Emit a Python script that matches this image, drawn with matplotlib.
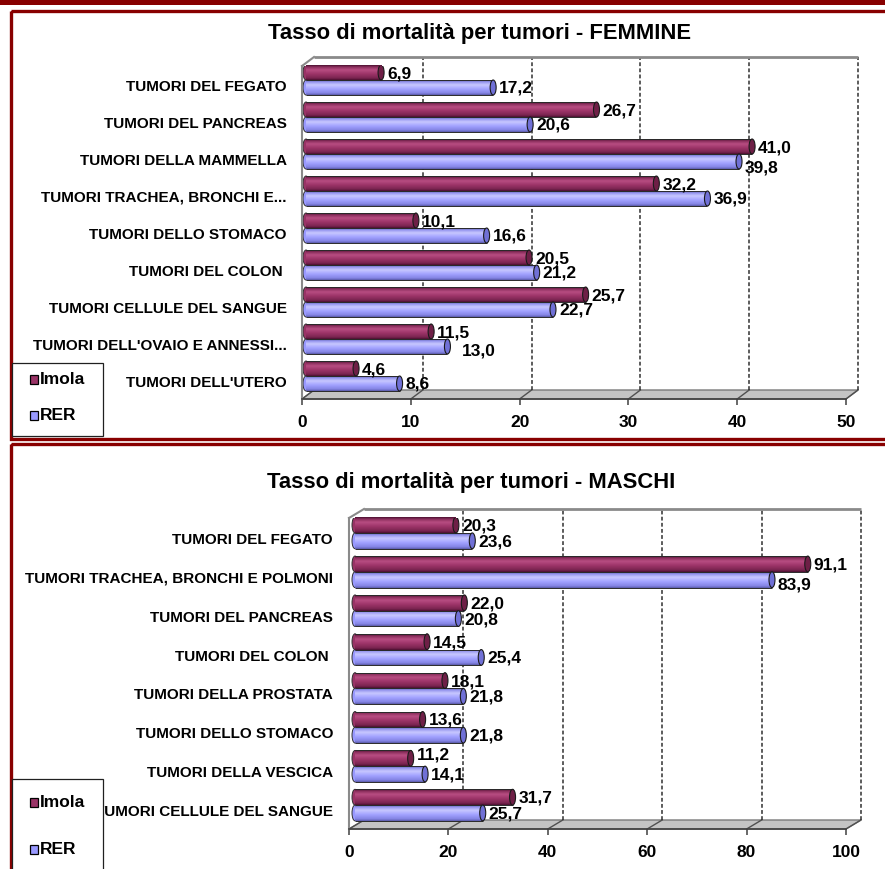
import matplotlib.pyplot as plt
import numpy as np
from matplotlib.patches import Rectangle, Ellipse, Polygon
from matplotlib.colors import LinearSegmentedColormap

plt.rcParams['font.family'] = ['Liberation Sans', 'DejaVu Sans']
plt.rcParams['font.weight'] = 'bold'

# ── DATA ──────────────────────────────────────────────
series = ['Imola', 'RER']

cat_f = ['TUMORI DEL FEGATO', 'TUMORI DEL PANCREAS', 'TUMORI DELLA MAMMELLA',
         'TUMORI TRACHEA, BRONCHI E...', 'TUMORI DELLO STOMACO', 'TUMORI DEL COLON ',
         'TUMORI CELLULE DEL SANGUE', "TUMORI DELL'OVAIO E ANNESSI...", "TUMORI DELL'UTERO"]
imola_f = [6.9, 26.7, 41.0, 32.2, 10.1, 20.5, 25.7, 11.5, 4.6]
rer_f   = [17.2, 20.6, 39.8, 36.9, 16.6, 21.2, 22.7, 13.0, 8.6]

cat_m = ['TUMORI DEL FEGATO', 'TUMORI TRACHEA, BRONCHI E POLMONI', 'TUMORI DEL PANCREAS',
         'TUMORI DEL COLON ', 'TUMORI DELLA PROSTATA', 'TUMORI DELLO STOMACO',
         'TUMORI DELLA VESCICA', 'TUMORI CELLULE DEL SANGUE']
imola_m = [20.3, 91.1, 22.0, 14.5, 18.1, 13.6, 11.2, 31.7]
rer_m   = [23.6, 83.9, 20.8, 25.4, 21.8, 21.8, 14.1, 25.7]

# ── COLORS ────────────────────────────────────────────
BORDER = '#880000'
cmaps = {
    'Imola': LinearSegmentedColormap.from_list('imola', [
        (0.0, '#4a1030'), (0.12, '#8a2e5c'), (0.32, '#b84d82'),
        (0.6, '#9c3468'), (0.88, '#7a2450'), (1.0, '#4a1030')]),
    'RER': LinearSegmentedColormap.from_list('rer', [
        (0.0, '#5a5aa8'), (0.12, '#9494ee'), (0.32, '#c8c8ff'),
        (0.6, '#a2a2ff'), (0.88, '#8484e4'), (1.0, '#5a5aa8')]),
}
cap_color = {'Imola': '#6e1f46', 'RER': '#7070d6'}
swatch = {'Imola': '#993366', 'RER': '#9999ff'}

W, H = 885, 870
fig = plt.figure(figsize=(W / 100, H / 100), dpi=100)
fig.patch.set_facecolor('white')


def box(l, t, r, b):
    return [l / W, 1 - b / H, (r - l) / W, (b - t) / H]


# background layer: frames around the two panels
bg = fig.add_axes([0, 0, 1, 1], zorder=0)
bg.set_xlim(0, W)
bg.set_ylim(H, 0)
bg.axis('off')
bg.add_patch(Rectangle((0, 0), W, 6, color=BORDER, lw=0))
bg.add_patch(Rectangle((10.5, 11.5), 890, 428, fill=False, ec=BORDER, lw=2.4))
bg.add_patch(Rectangle((10.5, 444.5), 890, 440, fill=False, ec=BORDER, lw=2.4))

# foreground layer: legends sit on top of the category labels
fg = fig.add_axes([0, 0, 1, 1], zorder=5)
fg.set_xlim(0, W)
fg.set_ylim(H, 0)
fg.axis('off')
fg.patch.set_visible(False)


def draw_legend(top, bottom, y_imola, y_rer):
    fg.add_patch(Rectangle((12, top), 91, bottom - top, fc='white', ec='#202020', lw=0.9))
    for name, yy in zip(series, [y_imola, y_rer]):
        fg.add_patch(Rectangle((30, yy - 4.5), 8, 9, fc=swatch[name], ec='black', lw=0.9))
        fg.text(40, yy, name, fontsize=12.5, fontweight='bold', va='center', ha='left')


def draw_chart(front, cats, imola, rer, xmax, step, back_dx, bar_dx,
               title, title_xy, label_pad, tick_pad, nudges):
    n = len(cats)
    ax = fig.add_axes(box(*front), zorder=1)
    ax.patch.set_visible(False)
    ax.set_xlim(0, xmax)
    ax.set_ylim(n - 0.5, -0.5)

    # pixel → data unit conversion
    px_x = (front[2] - front[0]) / xmax
    px_y = (front[3] - front[1]) / n
    bx, by = back_dx / px_x, -9 / px_y
    ty = n - 0.5
    ticks = np.arange(0, xmax + step / 2, step)

    # walls and floor
    ax.add_patch(Rectangle((bx, -0.5 + by), xmax, n, fc='white', ec='none', zorder=0.5, clip_on=False))
    ax.add_patch(Polygon([(0, ty), (xmax, ty), (xmax + bx, ty + by), (bx, ty + by)],
                         closed=True, fc='#c4c4c4', ec='#7a7a7a', lw=1, zorder=0.6, clip_on=False))
    for v in ticks:
        ax.plot([v, v + bx], [ty, ty + by], color='#505050', lw=1, zorder=0.7, clip_on=False)
    for v in ticks[1:]:
        ax.plot([v + bx, v + bx], [ty + by, -0.5 + by], color='#303030', lw=1.1,
                ls=(0, (2.5, 1.5)), zorder=0.8, clip_on=False)
    ax.plot([bx, xmax + bx], [-0.5 + by, -0.5 + by], color='#8a8a8a', lw=2, zorder=0.8,
            clip_on=False, solid_capstyle='butt')
    ax.plot([0, bx], [-0.5, -0.5 + by], color='#8a8a8a', lw=1.5, zorder=0.8, clip_on=False)

    # cylinders
    h = 0.405
    ox, oy = bar_dx / px_x, -4.5 / px_y
    cap_w = 6 / px_x
    pos = np.arange(n)
    for name, vals, sign in [('Imola', imola, -1), ('RER', rer, 1)]:
        yc = pos + sign * h / 2 + oy
        bars = ax.barh(yc, vals, height=h, left=ox, color=swatch[name], lw=0, zorder=2)
        for bar, v, c in zip(bars, vals, yc):
            x0, x1 = ox, ox + v
            ax.add_patch(Ellipse((x0, c), cap_w, h, fc=swatch[name], ec='#303030', lw=0.7, zorder=1.9))
            grad = np.linspace(0, 1, 64).reshape(-1, 1)
            im = ax.imshow(grad, cmap=cmaps[name], extent=(x0, x1, c + h / 2, c - h / 2),
                           aspect='auto', origin='upper', zorder=2.1, interpolation='bilinear')
            im.set_clip_path(bar)
            ax.hlines([c - h / 2, c + h / 2], x0, x1, color='#2a2a2a', lw=0.7, zorder=2.2)
            ax.add_patch(Ellipse((x1, c), cap_w, h, fc=cap_color[name], ec='#1a1a1a', lw=0.8, zorder=2.3))
            dxp, dyp = nudges.get((name, v), (0, 0))
            ax.annotate(f'{v:.1f}'.replace('.', ','), xy=(x1, c), xytext=(6 + dxp, -dyp),
                        textcoords='offset pixels', ha='left', va='center',
                        fontsize=12.5, fontweight='bold', zorder=3, annotation_clip=False)

    ax.set_xlim(0, xmax)
    ax.set_ylim(n - 0.5, -0.5)

    # axes lines and labels
    for side in ['top', 'right']:
        ax.spines[side].set_visible(False)
    ax.spines['left'].set_color('#8a8a8a')
    ax.spines['left'].set_linewidth(1.5)
    ax.spines['bottom'].set_color('#404040')
    ax.spines['bottom'].set_linewidth(1.2)
    ax.set_xticks(ticks)
    ax.set_xticklabels([f'{int(v)}' for v in ticks], fontsize=12.5, fontweight='bold')
    ax.tick_params(axis='x', length=4, width=1.1, color='#404040', pad=tick_pad)
    ax.set_yticks(pos)
    ax.set_yticklabels(cats, fontsize=11, fontweight='bold')
    ax.tick_params(axis='y', length=0, pad=label_pad)

    fig.text(title_xy[0] / W, 1 - title_xy[1] / H, title, fontsize=15.8, fontweight='bold',
             ha='center', va='center')
    return ax


draw_chart((302, 67, 846, 400), cat_f, imola_f, rer_f, 50, 10, 12, 4,
           'Tasso di mortalità per tumori - FEMMINE', (480, 33), 11, 7,
           {('RER', 39.8): (0, 6), ('RER', 13.0): (8, 4)})
draw_chart((349, 519, 846, 830), cat_m, imola_m, rer_m, 100, 20, 15, 6,
           'Tasso di mortalità per tumori - MASCHI', (471, 483), 11.5, 7,
           {('RER', 83.9): (0, 4), ('Imola', 11.2): (0, -4)})

draw_legend(364, 437, 380, 416)
draw_legend(780, 880, 803, 850)

fig.savefig('out.png', dpi=100)
